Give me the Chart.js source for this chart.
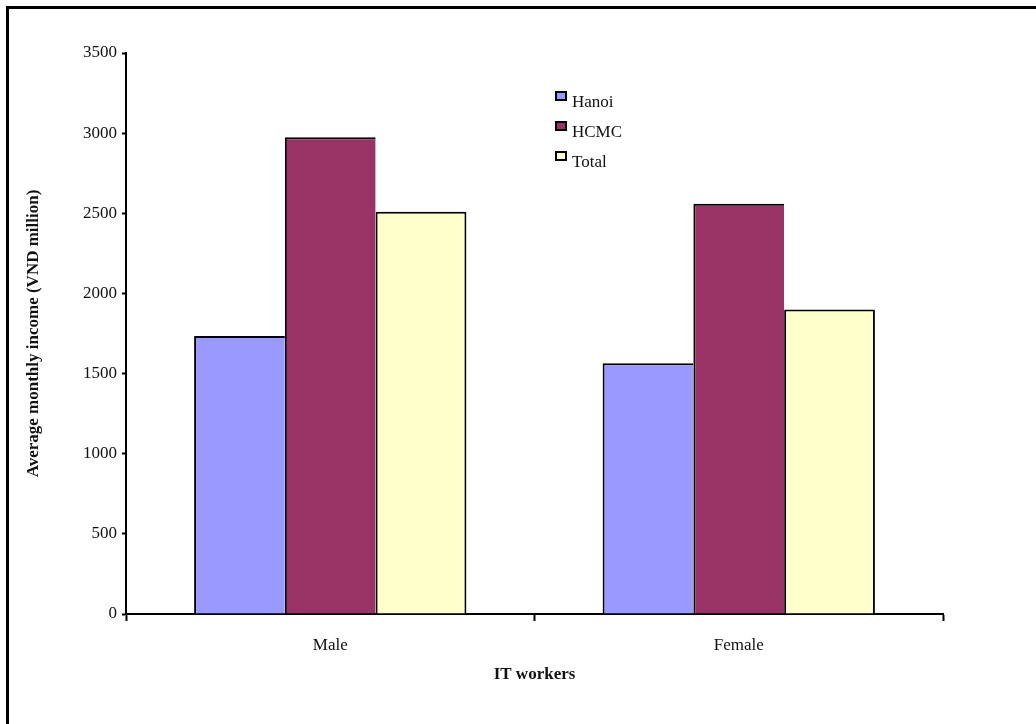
<!DOCTYPE html>
<html>
<head>
<meta charset="utf-8">
<title>Average monthly income of IT workers</title>
<script src="https://cdn.jsdelivr.net/npm/chart.js@4.4.1/dist/chart.umd.min.js"></script>
<style>
  html, body { margin: 0; padding: 0; background: #ffffff; }
  #wrap { position: relative; width: 1036px; height: 724px; }
  canvas { display: block; }
</style>
</head>
<body>
<div id="wrap"><canvas id="chart" width="1036" height="724"></canvas></div>
<script>
// Categories and series values (average monthly income, VND million)
const categories = ['Male', 'Female'];
const hanoi = [1735, 1565];
const hcmc = [2975, 2560];
const total = [2510, 1900];
const seriesNames = ['Hanoi', 'HCMC', 'Total'];
const seriesColors = ['#9999FF', '#993366', '#FFFFCC'];
const yTicks = [0, 500, 1000, 1500, 2000, 2500, 3000, 3500];

const FONT = '"Liberation Serif", "Times New Roman", serif';

// Outer frame (left and top edges)
const framePlugin = {
  id: 'frame',
  beforeDraw(chart) {
    const ctx = chart.ctx;
    ctx.save();
    ctx.fillStyle = '#000';
    ctx.fillRect(6, 6, chart.width - 6, 3);
    ctx.fillRect(6, 6, 3, chart.height - 6);
    ctx.restore();
  }
};

// Legend drawn as a small list inside the plot area
const legendPlugin = {
  id: 'insideLegend',
  afterDraw(chart) {
    const ctx = chart.ctx;
    ctx.save();
    ctx.font = '17px ' + FONT;
    ctx.textBaseline = 'alphabetic';
    ctx.textAlign = 'left';
    chart.data.datasets.forEach((ds, i) => {
      const y = 92 + i * 30;
      ctx.fillStyle = '#000';
      ctx.fillRect(555, y - 1, 12, 10);
      ctx.fillStyle = ds.backgroundColor;
      ctx.fillRect(557, y + 1, 8, 6);
      ctx.fillStyle = '#111';
      ctx.fillText(ds.label, 572, y + 15);
    });
    ctx.restore();
  }
};

const values = [hanoi, hcmc, total];
// Neighbouring bars share one 2px outline
const borderWidths = [
  { left: 2, right: 0, top: 2, bottom: 0 },
  { left: 2, right: 0, top: 2, bottom: 0 },
  { left: 2, right: 2, top: 2, bottom: 0 }
];

new Chart(document.getElementById('chart'), {
  type: 'bar',
  data: {
    labels: categories,
    datasets: seriesNames.map((name, i) => ({
      label: name,
      data: values[i],
      backgroundColor: seriesColors[i],
      borderColor: '#000',
      borderWidth: borderWidths[i],
      borderSkipped: 'start',
      barPercentage: 1,
      categoryPercentage: 3 / 4.5
    }))
  },
  options: {
    responsive: false,
    animation: false,
    devicePixelRatio: 1,
    layout: { padding: { left: 0, right: 93, top: 53, bottom: 0 } },
    plugins: {
      legend: { display: false },
      tooltip: { enabled: false }
    },
    scales: {
      x: {
        offset: true,
        grid: {
          offset: true,
          drawOnChartArea: false,
          drawTicks: true,
          tickLength: 7,
          tickColor: '#000',
          tickWidth: 2
        },
        border: { display: true, color: '#000', width: 2 },
        ticks: {
          color: '#111',
          padding: 14,
          font: { family: FONT, size: 17 }
        },
        title: {
          display: true,
          text: 'IT workers',
          color: '#111',
          font: { family: FONT, size: 17, weight: 'bold' },
          padding: { top: 0, bottom: 39 }
        },
        afterFit(scale) { scale.height = 110; }
      },
      y: {
        min: 0,
        max: 3500,
        afterBuildTicks(scale) { scale.ticks = yTicks.map(v => ({ value: v })); },
        grid: {
          drawOnChartArea: false,
          drawTicks: true,
          tickLength: 4,
          tickColor: '#000',
          tickWidth: 2
        },
        border: { display: true, color: '#000', width: 2 },
        ticks: {
          color: '#111',
          padding: 5,
          font: { family: FONT, size: 17 },
          callback: v => String(v)
        },
        title: {
          display: true,
          text: 'Average monthly income (VND million)',
          color: '#111',
          font: { family: FONT, size: 17, weight: 'bold' },
          padding: { top: 23, bottom: 0 }
        },
        afterFit(scale) { scale.width = 126; }
      }
    }
  },
  plugins: [framePlugin, legendPlugin]
});
</script>
</body>
</html>
